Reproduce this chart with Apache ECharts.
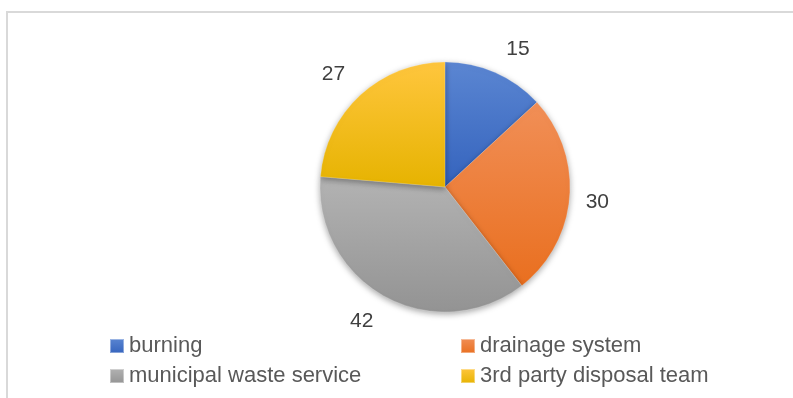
<!DOCTYPE html>
<html>
<head>
<meta charset="utf-8">
<script src="https://cdn.jsdelivr.net/npm/echarts@6/dist/echarts.min.js"></script>
<style>html,body{margin:0;padding:0;background:#fff;}#c{width:793px;height:398px;}</style>
</head>
<body>
<div id="c"></div>
<script>
const categories = ['burning', 'drainage system', 'municipal waste service', '3rd party disposal team'];
const values = [15, 30, 42, 27];
const topColors = ['#5b86d2', '#f18f57', '#b3b3b3', '#ffc63e'];
const bottomColors = ['#3463bd', '#e96f1f', '#939393', '#e6b300'];

const FONT = 'Liberation Sans';
const CX = 445, CY = 187, R = 125;
const chart = echarts.init(document.getElementById('c'));
const grad = (i) => new echarts.graphic.LinearGradient(0, 0, 0, 1, [
  { offset: 0, color: topColors[i] }, { offset: 1, color: bottomColors[i] }
]);
const mainData = categories.map((n, i) => ({ name: n, value: values[i], itemStyle: { color: grad(i) } }));

const legendText = { fontFamily: FONT, fontSize: 22, color: '#595959' };

chart.setOption({
  animation: false,
  backgroundColor: '#ffffff',
  graphic: [{
    type: 'rect', shape: { x: 7, y: 12, width: 900, height: 500 },
    style: { fill: 'none', stroke: '#d9d9d9', lineWidth: 2 }, silent: true
  }],
  legend: [
    { data: [categories[0], categories[2]], orient: 'vertical', left: 109, top: 335, itemGap: 8,
      padding: 0, itemWidth: 14, itemHeight: 14, icon: 'rect', textStyle: legendText },
    { data: [categories[1], categories[3]], orient: 'vertical', left: 460, top: 335, itemGap: 8,
      padding: 0, itemWidth: 14, itemHeight: 14, icon: 'rect', textStyle: legendText }
  ],
  series: [
    {
      type: 'pie', center: [CX, CY], radius: R, startAngle: 90, clockwise: true,
      avoidLabelOverlap: false,
      label: { show: true, position: 'outside', formatter: '{c}', fontFamily: FONT, fontSize: 21,
        color: '#404040', distanceToLabelLine: 5 },
      labelLine: { show: false, length: 15, length2: 0 },
      labelLayout: function (p) {
        const r = p.labelRect;
        const mx = r.x + r.width / 2 - CX, my = r.y + r.height / 2 - CY;
        const c = -my / Math.sqrt(mx * mx + my * my);
        const k = Math.max(-1, Math.min(1, 3 * c));
        return { dy: -k * r.height * 0.45 + (my > 0 ? 2 : 0), dx: -Math.sign(mx) * 5 * (1 - Math.abs(k)) };
      },
      itemStyle: { borderColor: 'rgba(255,255,255,0.4)', borderWidth: 0.5,
        shadowBlur: 6, shadowColor: 'rgba(0,0,0,0.35)', shadowOffsetY: 2 },
      emphasis: { disabled: true },
      data: mainData
    }
  ]
});
</script>
</body>
</html>
